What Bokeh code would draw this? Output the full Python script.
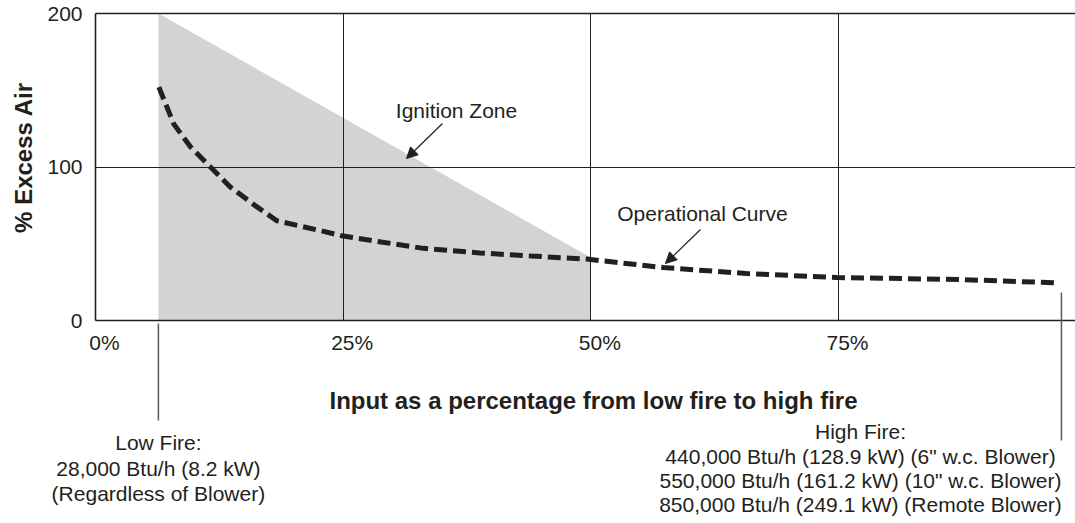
import math
from bokeh.plotting import figure
from bokeh.models import Range1d, FixedTicker, Arrow, NormalHead, Grid
from bokeh.core.properties import value
from bokeh.embed import file_html
from bokeh.resources import INLINE

# ---- data ----
curve_x = [6.4, 7.9, 9.6, 11.6, 13.6, 16.3, 18.3, 22.4, 25, 29, 33.1, 38.8, 44, 49.6, 57.3, 65.7, 74.8, 87.2, 97.2]
curve_y = [152, 128, 113, 100, 87, 74, 65, 59, 55, 51, 47, 44, 42, 40, 34.5, 30.6, 28, 26.7, 24.5]
zone_x = [6.35, 6.35, 50, 50]
zone_y = [0, 200, 41, 0]
x_ticks = [0, 25, 50, 75]
x_tick_labels = ["0%", "25%", "50%", "75%"]
y_ticks = [0, 100, 200]
y_tick_labels = ["0", "100", "200"]
low_fire_x = 6.35
high_fire_x = 97.5
low_fire_text = ["Low Fire:", "28,000 Btu/h (8.2 kW)", "(Regardless of Blower)"]
high_fire_text = ["High Fire:",
                  "440,000 Btu/h (128.9 kW) (6\" w.c. Blower)",
                  "550,000 Btu/h (161.2 kW) (10\" w.c. Blower)",
                  "850,000 Btu/h (249.1 kW) (Remote Blower)"]
x_title = "Input as a percentage from low fire to high fire"
y_title = "% Excess Air"

INK = "#231f20"
FONT = "Liberation Sans"
W, H = 1075, 523
X0PX, XSCALE = 95, 9.907     # pixel of 0 %, pixels per %
Y0PX, YSCALE = 320, 1.535    # pixel of 0, pixels per unit


def dx(px):
    return (px - X0PX) / XSCALE


def dy(py):
    return (Y0PX - py) / YSCALE


X_END = dx(W)
p = figure(width=W, height=H, output_backend="svg", toolbar_location=None,
           x_range=Range1d(dx(0), X_END), y_range=Range1d(dy(H), dy(0)), title=None,
           x_axis_location=None, y_axis_location=None, min_border=0)
p.outline_line_color = None
p.background_fill_color = "white"
p.border_fill_color = "white"
for g in p.grid:
    g.visible = False

# grid lines limited to the plot area
vgrid = Grid(dimension=0, ticker=FixedTicker(ticks=x_ticks[1:]), cross_bounds=(0, 200),
             grid_line_color=INK, grid_line_width=1)
hgrid = Grid(dimension=1, ticker=FixedTicker(ticks=[100]), cross_bounds=(0, X_END),
             grid_line_color=INK, grid_line_width=1)
p.add_layout(vgrid)
p.add_layout(hgrid)

zone = p.patch(zone_x, zone_y, fill_color="#d1d3d4", line_color=None)
zone.level = "image"

# axis lines and top border
p.segment(x0=[0, 0, 0], y0=[0, 0, 200], x1=[0, X_END, X_END], y1=[200, 0, 200],
          line_color=INK, line_width=1.6)

p.line(curve_x, curve_y, line_color=INK, line_width=5, line_dash="13 6", line_cap="butt")


def txt(texts, xs, ys, size, bold=False, align="center", xo=0, yo=0, angle=0):
    p.text(x=xs, y=ys, text=texts, x_offset=xo, y_offset=yo, angle=angle,
           text_font=value(FONT), text_font_size=f"{size}px",
           text_font_style="bold" if bold else "normal",
           text_color=INK, text_align=align, text_baseline="middle")


txt(x_tick_labels, x_ticks, [dy(342)] * len(x_ticks), 21, xo=9)
txt(y_tick_labels, [0] * len(y_ticks), y_ticks, 21, align="right", xo=-13)

txt([x_title], [dx(593)], [dy(400)], 24, bold=True)
txt([y_title], [dx(23)], [dy(157)], 24, bold=True, angle=math.pi / 2)

txt(["Ignition Zone"], [dx(456)], [dy(110)], 21)
txt(["Operational Curve"], [dx(702)], [dy(213)], 21)

for (a, b, c, d) in [(442, 123, 406, 158), (700, 229, 665, 263)]:
    p.add_layout(Arrow(x_start=dx(a), y_start=dy(b), x_end=dx(c), y_end=dy(d),
                       line_color=INK, line_width=1.2,
                       end=NormalHead(size=11, fill_color=INK, line_color=INK, line_width=1)))

# marker lines for low / high fire
p.segment(x0=[low_fire_x, high_fire_x], y0=[dy(323), dy(292)],
          x1=[low_fire_x, high_fire_x], y1=[dy(420), dy(440)],
          line_color="#58595b", line_width=1.5)

txt(low_fire_text, [low_fire_x] * 3, [dy(442), dy(467.5), dy(493)], 21)
txt(high_fire_text, [dx(860)] * 4, [dy(431), dy(455.5), dy(480), dy(504)], 21)

open("out.html", "w").write(file_html(p, INLINE))
